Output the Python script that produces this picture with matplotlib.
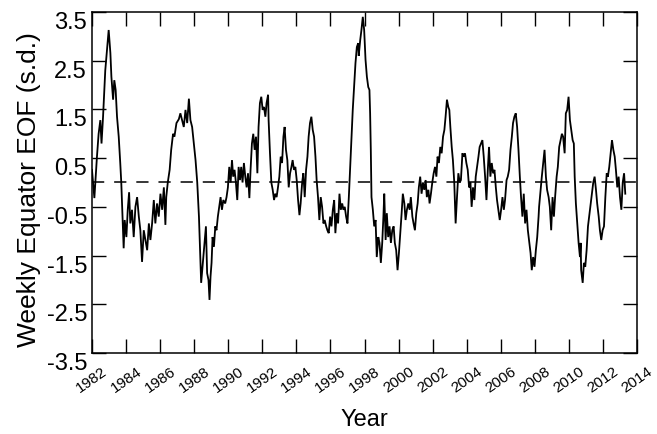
import matplotlib
matplotlib.use("Agg")
import matplotlib.pyplot as plt
from matplotlib import font_manager as fm

names = {f.name for f in fm.fontManager.ttflist}
FAM = [f for f in ["Liberation Sans Narrow", "Liberation Sans", "DejaVu Sans"] if f in names]
plt.rcParams['font.family'] = FAM

# ---- data ----
years = [
    1982.00, 1982.14, 1982.29, 1982.39, 1982.49, 1982.56, 1982.65, 1982.78, 1982.88, 1982.98,
    1983.08, 1983.14, 1983.24, 1983.31, 1983.39, 1983.47, 1983.57, 1983.66, 1983.72, 1983.78,
    1983.86, 1983.92, 1984.02, 1984.10, 1984.18, 1984.25, 1984.35, 1984.45, 1984.55, 1984.65,
    1984.75, 1984.84, 1984.94, 1985.04, 1985.14, 1985.24, 1985.34, 1985.43, 1985.53, 1985.63,
    1985.72, 1985.82, 1985.92, 1986.02, 1986.12, 1986.22, 1986.31, 1986.36, 1986.45, 1986.56,
    1986.65, 1986.76, 1986.84, 1986.96, 1987.10, 1987.19, 1987.29, 1987.39, 1987.49, 1987.59,
    1987.69, 1987.78, 1987.88, 1987.98, 1988.08, 1988.18, 1988.28, 1988.37, 1988.41, 1988.51,
    1988.61, 1988.69, 1988.76, 1988.84, 1988.90, 1988.96, 1989.02, 1989.08, 1989.16, 1989.24,
    1989.31, 1989.39, 1989.47, 1989.55, 1989.63, 1989.71, 1989.82, 1989.90, 1989.98, 1990.06,
    1990.14, 1990.22, 1990.29, 1990.37, 1990.45, 1990.53, 1990.61, 1990.69, 1990.76, 1990.84,
    1990.92, 1991.00, 1991.08, 1991.16, 1991.24, 1991.31, 1991.39, 1991.47, 1991.55, 1991.63,
    1991.71, 1991.78, 1991.86, 1991.94, 1992.02, 1992.10, 1992.18, 1992.25, 1992.34, 1992.37,
    1992.45, 1992.53, 1992.61, 1992.69, 1992.76, 1992.84, 1992.92, 1993.00, 1993.08, 1993.16,
    1993.24, 1993.31, 1993.39, 1993.47, 1993.55, 1993.63, 1993.71, 1993.78, 1993.86, 1993.94,
    1994.02, 1994.10, 1994.18, 1994.25, 1994.34, 1994.41, 1994.49, 1994.57, 1994.65, 1994.72,
    1994.80, 1994.88, 1994.96, 1995.04, 1995.12, 1995.19, 1995.27, 1995.35, 1995.43, 1995.51,
    1995.59, 1995.66, 1995.75, 1995.82, 1995.90, 1995.98, 1996.06, 1996.14, 1996.22, 1996.29,
    1996.37, 1996.45, 1996.53, 1996.61, 1996.69, 1996.76, 1996.84, 1996.92, 1997.00, 1997.08,
    1997.15, 1997.24, 1997.31, 1997.39, 1997.47, 1997.55, 1997.63, 1997.66, 1997.75, 1997.82,
    1997.90, 1997.98, 1998.06, 1998.14, 1998.22, 1998.29, 1998.33, 1998.37, 1998.41, 1998.49,
    1998.57, 1998.65, 1998.72, 1998.81, 1998.88, 1998.96, 1999.04, 1999.11, 1999.16, 1999.24,
    1999.31, 1999.39, 1999.47, 1999.55, 1999.63, 1999.71, 1999.78, 1999.86, 1999.94, 2000.02,
    2000.10, 2000.18, 2000.25, 2000.34, 2000.41, 2000.49, 2000.57, 2000.65, 2000.72, 2000.81,
    2000.88, 2000.96, 2001.04, 2001.12, 2001.19, 2001.27, 2001.35, 2001.43, 2001.51, 2001.59,
    2001.66, 2001.75, 2001.82, 2001.90, 2001.98, 2002.06, 2002.14, 2002.22, 2002.29, 2002.37,
    2002.45, 2002.53, 2002.61, 2002.69, 2002.76, 2002.84, 2002.92, 2002.98, 2003.04, 2003.12,
    2003.19, 2003.27, 2003.35, 2003.43, 2003.51, 2003.59, 2003.66, 2003.75, 2003.82, 2003.90,
    2003.98, 2004.06, 2004.14, 2004.22, 2004.29, 2004.37, 2004.45, 2004.53, 2004.61, 2004.69,
    2004.76, 2004.84, 2004.92, 2005.00, 2005.08, 2005.16, 2005.24, 2005.31, 2005.39, 2005.47,
    2005.55, 2005.63, 2005.71, 2005.78, 2005.86, 2005.94, 2006.02, 2006.10, 2006.18, 2006.25,
    2006.34, 2006.41, 2006.49, 2006.57, 2006.65, 2006.72, 2006.80, 2006.88, 2006.96, 2007.04,
    2007.12, 2007.19, 2007.27, 2007.35, 2007.43, 2007.51, 2007.59, 2007.66, 2007.75, 2007.82,
    2007.90, 2007.98, 2008.06, 2008.14, 2008.22, 2008.25, 2008.34, 2008.41, 2008.49, 2008.57,
    2008.65, 2008.72, 2008.81, 2008.88, 2008.96, 2009.04, 2009.12, 2009.19, 2009.28, 2009.35,
    2009.43, 2009.51, 2009.59, 2009.66, 2009.75, 2009.82, 2009.90, 2009.98, 2010.06, 2010.14,
    2010.22, 2010.29, 2010.34, 2010.41, 2010.49, 2010.57, 2010.65, 2010.69, 2010.72, 2010.81,
    2010.88, 2010.96, 2011.04, 2011.12, 2011.19, 2011.28, 2011.35, 2011.43, 2011.51, 2011.59,
    2011.66, 2011.75, 2011.82, 2011.90, 2011.98, 2012.06, 2012.14, 2012.22, 2012.29, 2012.37,
    2012.45, 2012.53, 2012.61, 2012.69, 2012.76, 2012.84, 2012.92, 2013.00, 2013.08, 2013.16,
    2013.24, 2013.31,
]
eof = [
    0.26, -0.32, 0.52, 1.00, 1.28, 0.80, 1.35, 2.30, 2.72, 3.13,
    2.66, 2.17, 1.70, 2.10, 1.90, 1.35, 0.94, 0.40, 0.00, -0.56,
    -1.35, -0.77, -1.12, -0.56, -0.20, -0.84, -0.56, -1.12, -0.50, -0.30,
    -0.70, -0.98, -1.63, -0.98, -1.18, -1.39, -0.84, -1.18, -0.84, -0.36,
    -0.84, -0.43, -0.70, -0.23, -0.56, -0.10, -0.87, -0.30, 0.00, 0.26,
    0.67, 1.00, 0.94, 1.22, 1.30, 1.42, 1.28, 1.14, 1.49, 1.22,
    1.72, 1.28, 1.14, 0.80, 0.46, 0.00, -0.70, -1.65, -2.06, -1.65,
    -1.24, -0.90, -1.86, -2.00, -2.41, -1.93, -1.65, -1.12, -1.32, -0.90,
    -0.98, -0.70, -0.50, -0.30, -0.56, -0.36, -0.43, -0.30, -0.10, 0.32,
    0.00, 0.46, 0.12, 0.26, 0.00, -0.36, 0.32, 0.05, 0.32, 0.00,
    0.40, 0.12, -0.10, 0.19, -0.32, 0.26, 0.80, 1.00, 0.67, 0.94,
    0.19, 1.14, 1.63, 1.76, 1.49, 1.55, 1.35, 1.63, 1.80, 1.28,
    0.60, 0.00, -0.15, -0.36, -0.23, -0.30, -0.10, 0.12, 0.53, 0.40,
    0.94, 1.14, 0.67, 0.46, -0.10, 0.19, 0.32, 0.46, 0.26, 0.32,
    0.05, -0.36, -0.67, -0.43, 0.00, 0.19, -0.30, 0.26, 0.53, 0.94,
    1.22, 1.35, 1.08, 0.94, 0.53, 0.05, -0.30, -0.77, -0.30, -0.50,
    -0.84, -0.77, -0.90, -0.98, -1.04, -0.70, -0.90, -0.56, -0.36, -1.04,
    -0.63, -0.84, -0.23, -0.56, -0.43, -0.56, -0.50, -0.70, -0.84, -0.30,
    0.26, 0.94, 1.49, 1.96, 2.45, 2.78, 2.86, 2.60, 2.93, 3.13,
    3.40, 3.13, 2.52, 2.17, 1.96, 1.90, 1.42, 0.67, -0.30, -0.56,
    -0.90, -0.77, -1.53, -1.12, -1.24, -1.65, -1.24, -0.70, -0.23, -1.18,
    -0.63, -1.12, -0.90, -1.24, -0.98, -0.90, -1.24, -1.39, -1.80, -1.45,
    -1.04, -0.63, -0.23, -0.43, -0.77, -0.56, -0.43, -0.56, -0.30, -0.70,
    -0.84, -0.98, -0.63, -0.43, -0.10, 0.12, -0.23, 0.00, -0.15, 0.05,
    -0.30, -0.15, -0.43, -0.23, 0.00, 0.19, 0.32, 0.12, 0.53, 0.40,
    0.73, 0.60, 0.94, 1.08, 1.35, 1.70, 1.55, 1.49, 1.14, 0.73,
    0.46, 0.00, -0.84, -0.30, 0.19, 0.00, 0.05, 0.60, 0.53, 0.60,
    0.40, 0.26, -0.10, 0.00, -0.50, -0.10, -0.36, 0.12, 0.32, 0.53,
    0.73, 0.80, 0.87, 0.53, 0.12, -0.36, 0.26, 0.73, 0.12, 0.40,
    0.19, 0.26, -0.10, -0.36, -0.56, -0.77, -0.56, -0.30, -0.56, -0.36,
    0.05, 0.12, 0.26, 0.67, 0.94, 1.22, 1.35, 1.42, 1.14, 0.67,
    0.12, -0.30, -0.70, -0.23, -0.84, -0.56, -0.98, -1.18, -1.45, -1.80,
    -1.53, -1.73, -1.39, -1.12, -0.70, -0.50, -0.15, 0.12, 0.40, 0.67,
    0.12, -0.15, -0.30, -0.50, -0.98, -0.30, -0.70, -0.30, 0.12, 0.32,
    0.73, 0.87, 1.00, 0.94, 0.60, 1.42, 1.49, 1.76, 1.28, 1.08,
    0.87, 0.80, 0.12, -0.43, -0.84, -1.24, -1.53, -1.24, -1.80, -2.06,
    -1.65, -1.73, -1.39, -0.90, -0.70, -0.43, -0.23, 0.00, 0.12, -0.15,
    -0.43, -0.70, -0.98, -1.18, -0.98, -0.90, -0.30, 0.19, 0.12, 0.32,
    0.60, 0.87, 0.67, 0.53, 0.26, -0.10, 0.12, -0.30, -0.56, 0.00,
    0.19, -0.23,
]
x_ticks = list(range(1982, 2015, 2))
y_ticks = [-3.5, -2.5, -1.5, -0.5, 0.5, 1.5, 2.5, 3.5]
y_tick_labels = ["-3.5", "-2.5", "-1.5", "-0.5", "0.5", "1.5", "2.5", "3.5"]

fig = plt.figure(figsize=(6.57, 4.34), dpi=100)
ax = fig.add_axes([0.140, 0.1866, 0.8296, 0.7858])

ax.plot(years, eof, color="black", lw=1.3, solid_joinstyle="miter")
ax.axhline(0, color="black", lw=1.1, linestyle=(0, (8, 6.5)))

ax.set_xlim(1982, 2014)
ax.set_ylim(-3.5, 3.5)
ax.set_xticks(x_ticks)
ax.set_xticklabels([str(t) for t in x_ticks], rotation=35, fontsize=11)
ax.set_yticks(y_ticks)
ax.set_yticklabels(y_tick_labels, fontsize=17)
for lbl in ax.get_yticklabels():
    lbl.set_va("top")

ax.tick_params(axis="both", direction="in", length=10, width=1.0, top=True, right=True)
ax.tick_params(axis="y", pad=3.5)
ax.tick_params(axis="x", pad=8)
for s in ax.spines.values():
    s.set_linewidth(1.1)

ax.set_ylabel("Weekly Equator EOF (s.d.)", fontsize=19)
ax.yaxis.set_label_coords(-0.093, 0.48)
ax.set_xlabel("Year", fontsize=17)
ax.xaxis.set_label_coords(0.5, -0.165)

fig.savefig("out.png", dpi=100)
